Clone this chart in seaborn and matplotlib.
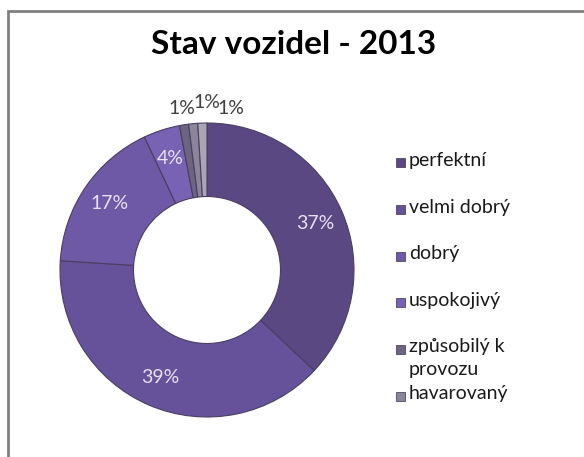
import matplotlib
matplotlib.use('Agg')
import matplotlib.pyplot as plt
import seaborn as sns
import numpy as np
from matplotlib.patches import Rectangle

# data
kategorie = ['perfektní', 'velmi dobrý', 'dobrý', 'uspokojivý',
             'způsobilý k\nprovozu', 'havarovaný', '']
podil = [37, 39, 17, 4, 1, 1, 1]
barvy = ['#5a4883', '#65529a', '#6d59a5', '#7762b4', '#6d6480', '#8b859a', '#aaa5b5']

sns.set_theme(style='white')
plt.rcParams['font.family'] = ['Lato', 'DejaVu Sans']

fig = plt.figure(figsize=(5.84, 4.57), dpi=100)
fig.patch.set_facecolor('white')

# ramecek grafu (jen horni a leva hrana je videt)
fig.patches.append(Rectangle((8 / 584, -0.1), 1.2, 1 - 11 / 457 + 0.1,
                             transform=fig.transFigure, fill=False,
                             edgecolor='#808080', linewidth=2))

ax = fig.add_axes([60 / 584, 40 / 457, 294 / 584, 294 / 457])
wedges, _, texty = ax.pie(podil, colors=barvy, startangle=90, counterclock=False,
                          radius=1, autopct='%1.0f%%', pctdistance=0.8,
                          wedgeprops=dict(width=0.5, edgecolor='#4a3e62', linewidth=0.8),
                          textprops=dict(color='#e6e0f0', fontsize=14))
ax.set_xlim(-1, 1)
ax.set_ylim(-1, 1)
ax.set_aspect('equal')

# male vysece - popisky nad prstencem
posun = [-0.17, 0.0, 0.16]
k = 0
for t, v in zip(texty, podil):
    if v <= 1:
        t.set_position((posun[k], 1.04 if k != 1 else 1.08))
        t.set_color('#404040')
        t.set_va('bottom')
        k += 1

fig.text(294 / 584, 1 - 45 / 457, 'Stav vozidel - 2013', ha='center', va='center',
         fontsize=24, fontweight='bold', color='black')

# legenda
for i, (lab, b) in enumerate(zip(kategorie[:6], barvy[:6])):
    y = 1 - (163 + i * 46.6) / 457
    fig.patches.append(Rectangle((396 / 584, y - 4.5 / 457), 9 / 584, 9 / 457,
                                 transform=fig.transFigure, facecolor=b,
                                 edgecolor='#3a3050', linewidth=0.5))
    fig.text(409 / 584, y + 11 / 457, lab, ha='left', va='top', fontsize=14,
             color='#1a1a1a', linespacing=1.4)

fig.savefig('out.png', dpi=100, facecolor='white')
